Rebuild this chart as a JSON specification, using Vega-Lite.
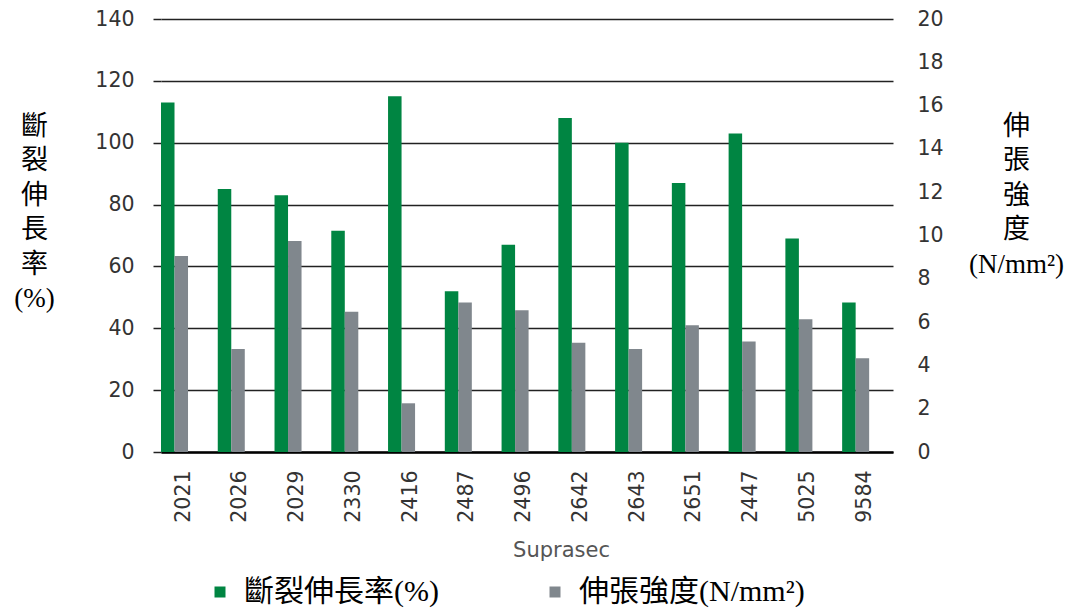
{
  "$schema": "https://vega.github.io/schema/vega-lite/v6.json",
  "width": 732,
  "height": 433,
  "autosize": {"type": "none"},
  "padding": {"left": 161, "top": 19, "right": 184, "bottom": 158},
  "background": "white",
  "config": {
    "view": {"stroke": null},
    "axis": {"labelFont": "DejaVu Sans", "labelFontSize": 20.5, "labelColor": "#333333"}
  },
  "data": {
    "values": [
      {"code": "2021", "series": "斷裂伸長率(%)", "value": 113},
      {"code": "2026", "series": "斷裂伸長率(%)", "value": 85},
      {"code": "2029", "series": "斷裂伸長率(%)", "value": 83},
      {"code": "2330", "series": "斷裂伸長率(%)", "value": 71.5},
      {"code": "2416", "series": "斷裂伸長率(%)", "value": 115},
      {"code": "2487", "series": "斷裂伸長率(%)", "value": 52},
      {"code": "2496", "series": "斷裂伸長率(%)", "value": 67},
      {"code": "2642", "series": "斷裂伸長率(%)", "value": 108},
      {"code": "2643", "series": "斷裂伸長率(%)", "value": 100},
      {"code": "2651", "series": "斷裂伸長率(%)", "value": 87},
      {"code": "2447", "series": "斷裂伸長率(%)", "value": 103},
      {"code": "5025", "series": "斷裂伸長率(%)", "value": 69},
      {"code": "9584", "series": "斷裂伸長率(%)", "value": 48.3},
      {"code": "2021", "series": "伸張強度(N/mm²)", "value": 9.05},
      {"code": "2026", "series": "伸張強度(N/mm²)", "value": 4.76},
      {"code": "2029", "series": "伸張強度(N/mm²)", "value": 9.75},
      {"code": "2330", "series": "伸張強度(N/mm²)", "value": 6.48},
      {"code": "2416", "series": "伸張強度(N/mm²)", "value": 2.25},
      {"code": "2487", "series": "伸張強度(N/mm²)", "value": 6.9},
      {"code": "2496", "series": "伸張強度(N/mm²)", "value": 6.55},
      {"code": "2642", "series": "伸張強度(N/mm²)", "value": 5.05},
      {"code": "2643", "series": "伸張強度(N/mm²)", "value": 4.76},
      {"code": "2651", "series": "伸張強度(N/mm²)", "value": 5.85},
      {"code": "2447", "series": "伸張強度(N/mm²)", "value": 5.1},
      {"code": "5025", "series": "伸張強度(N/mm²)", "value": 6.13},
      {"code": "9584", "series": "伸張強度(N/mm²)", "value": 4.33}
    ]
  },
  "encoding": {
    "x": {
      "field": "code",
      "type": "nominal",
      "sort": ["2021", "2026", "2029", "2330", "2416", "2487", "2496", "2642", "2643", "2651", "2447", "5025", "9584"],
      "scale": {"paddingInner": 0.524, "paddingOuter": 0.21, "align": 0},
      "axis": {
        "title": "Suprasec",
        "titleFont": "DejaVu Sans",
        "titleFontSize": 21,
        "titleFontWeight": "normal",
        "titleColor": "#555555",
        "titleX": 400,
        "titleY": 87,
        "titleBaseline": "top",
        "labelAngle": -90,
        "labelPadding": 18,
        "labelOffset": 9,
        "ticks": false,
        "domainColor": "#000000",
        "domainWidth": 2.5
      }
    },
    "xOffset": {
      "field": "series",
      "type": "nominal",
      "sort": ["斷裂伸長率(%)", "伸張強度(N/mm²)"],
      "scale": {"domain": ["斷裂伸長率(%)", "伸張強度(N/mm²)"], "paddingInner": 0, "paddingOuter": 0}
    },
    "color": {
      "field": "series",
      "type": "nominal",
      "scale": {"domain": ["斷裂伸長率(%)", "伸張強度(N/mm²)"], "range": ["#008542", "#80878d"]},
      "legend": {
        "title": null,
        "orient": "none",
        "direction": "horizontal",
        "legendX": 44,
        "legendY": 558,
        "symbolType": "square",
        "symbolSize": 121,
        "symbolStrokeWidth": 0,
        "labelFont": "Liberation Serif, Noto Sans CJK TC",
        "labelFontSize": 30,
        "labelColor": "#000000",
        "labelOffset": 9,
        "columnPadding": 101,
        "labelLimit": 400
      }
    }
  },
  "layer": [
    {
      "transform": [{"filter": "datum.series === '斷裂伸長率(%)'"}],
      "mark": {"type": "bar"},
      "encoding": {
        "y": {
          "field": "value",
          "type": "quantitative",
          "scale": {"domain": [0, 140], "nice": false},
          "axis": {
            "orient": "left",
            "values": [0, 20, 40, 60, 80, 100, 120, 140],
            "grid": true,
            "gridColor": "#222222",
            "gridWidth": 1.5,
            "gridOpacity": 1,
            "ticks": true,
            "tickSize": 8,
            "tickColor": "#222222",
            "tickWidth": 1.5,
            "domain": false,
            "labelPadding": 19,
            "title": ["斷", "裂", "伸", "長", "率", "(%)"],
            "titleAngle": 0,
            "titleAlign": "center",
            "titleBaseline": "top",
            "titleX": -127,
            "titleY": 94,
            "titleFont": "Liberation Serif, Noto Sans CJK TC",
            "titleFontSize": 27,
            "titleFontWeight": "normal",
            "titleColor": "#000000",
            "titleLineHeight": 34.5
          }
        }
      }
    },
    {
      "transform": [{"filter": "datum.series === '伸張強度(N/mm²)'"}],
      "mark": {"type": "bar"},
      "encoding": {
        "y": {
          "field": "value",
          "type": "quantitative",
          "scale": {"domain": [0, 20], "nice": false},
          "axis": {
            "orient": "right",
            "values": [0, 2, 4, 6, 8, 10, 12, 14, 16, 18, 20],
            "grid": false,
            "ticks": false,
            "domain": false,
            "labelPadding": 24,
            "title": ["伸", "張", "強", "度", "(N/mm²)"],
            "titleAngle": 0,
            "titleAlign": "center",
            "titleBaseline": "top",
            "titleX": 123,
            "titleY": 94,
            "titleFont": "Liberation Serif, Noto Sans CJK TC",
            "titleFontSize": 27,
            "titleFontWeight": "normal",
            "titleColor": "#000000",
            "titleLineHeight": 34.5
          }
        }
      }
    }
  ],
  "resolve": {"scale": {"y": "independent"}}
}
